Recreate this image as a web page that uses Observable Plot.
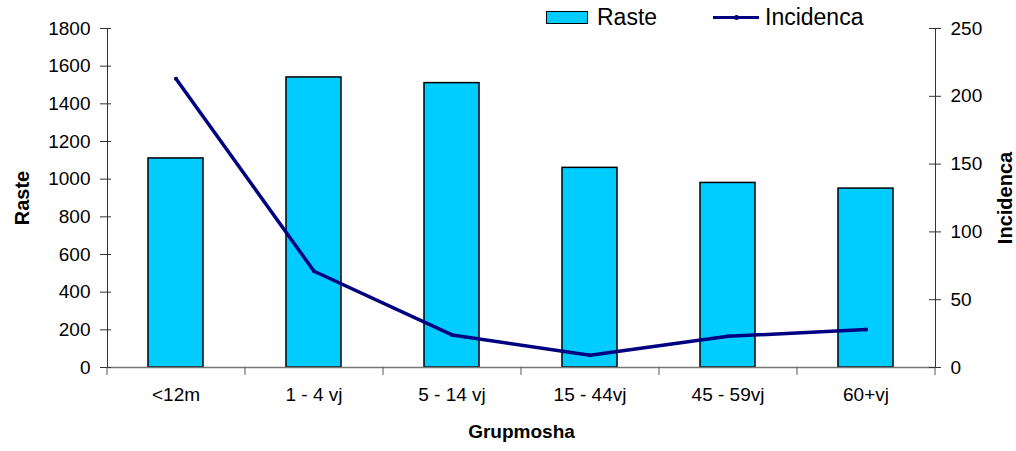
<!DOCTYPE html>
<html><head><meta charset="utf-8">
<script src="https://cdn.jsdelivr.net/npm/d3@7"></script>
<script src="https://cdn.jsdelivr.net/npm/@observablehq/plot@0.6"></script>
<style>
body{margin:0;background:#fff;font-family:"Liberation Sans",Arial,sans-serif}
#wrap{position:relative;width:1016px;height:451px}
.leg{position:absolute;top:4px;font-size:23px;color:#000;display:flex;align-items:center;white-space:nowrap}
.sw{display:inline-block;width:40px;height:11px;background:#00CCFF;border:1.5px solid #000;margin-right:9px}
.ln{display:inline-block;width:46px;height:3px;background:#000080;margin-right:6px;position:relative}
.ln::after{content:"";position:absolute;left:21px;top:-1.5px;width:5px;height:5px;border-radius:50%;background:#000080}
</style></head><body>
<div id="wrap">
  <div class="leg" style="left:546px"><span class="sw"></span>Raste</div>
  <div class="leg" style="left:713px"><span class="ln"></span>Incidenca</div>
</div>
<script>
const categories = ["<12m", "1 - 4 vj", "5 - 14 vj", "15 - 44vj", "45 - 59vj", "60+vj"];
const raste = [1110, 1540, 1510, 1060, 980, 950];
const incidenca = [213, 71, 24, 9, 23, 28];
const leftTicks = [0, 200, 400, 600, 800, 1000, 1200, 1400, 1600, 1800];
const rightTicks = [0, 50, 100, 150, 200, 250];
const leftMax = 1800, rightMax = 250;
const k = leftMax / rightMax;
const data = categories.map((c, i) => ({c, r: raste[i], inc: incidenca[i] * k}));

const chart = Plot.plot({
  width: 1016, height: 451,
  marginLeft: 107, marginRight: 81, marginTop: 28, marginBottom: 84,
  style: {fontFamily: "Liberation Sans, Arial, sans-serif", color: "#000", background: "transparent"},
  x: {domain: categories, paddingInner: 0.6, paddingOuter: 0.3, axis: null},
  y: {domain: [0, leftMax], axis: null},
  marks: [
    Plot.barY(data, {x: "c", y: "r", fill: "#00CCFF", stroke: "#000", strokeWidth: 1.5}),
    Plot.frame({anchor: "left", stroke: "#333"}),
    Plot.frame({anchor: "right", stroke: "#333"}),
    Plot.ruleY([0], {stroke: "#777", strokeWidth: 1.5}),
    Plot.lineY(data, {x: "c", y: "inc", stroke: "#000080", strokeWidth: 3.5}),
    Plot.dot(data, {x: "c", y: "inc", r: 2, fill: "#000080"}),
    Plot.axisY({anchor: "left", ticks: leftTicks, tickFormat: d => String(d), tickSize: 7, tickPadding: 10, fontSize: 19, label: null, stroke: "#333"}),
    Plot.axisY({anchor: "left", ticks: leftTicks, tickSize: -4, text: null, label: null, stroke: "#333"}),
    Plot.axisY({anchor: "right", ticks: rightTicks.map(d => d * k), tickFormat: d => String(Math.round(d / k)), tickSize: 5, tickPadding: 10, fontSize: 19, label: null, stroke: "#333"}),
    Plot.axisY({anchor: "right", ticks: rightTicks.map(d => d * k), tickSize: -7, text: null, label: null, stroke: "#333"}),
    Plot.axisX({ticks: categories, tickSize: 8, text: null, dx: -69, label: null, stroke: "#555"}),
    Plot.axisX({ticks: [categories[categories.length - 1]], tickSize: 8, text: null, dx: 69, label: null, stroke: "#555"}),
    Plot.axisX({tickSize: 0, tickPadding: 20, fontSize: 19, label: null}),
    Plot.text(["Raste"], {frameAnchor: "left", dx: -85, rotate: -90, textAnchor: "middle", fontWeight: "bold", fontSize: 20}),
    Plot.text(["Incidenca"], {frameAnchor: "right", dx: 70, rotate: -90, textAnchor: "middle", fontWeight: "bold", fontSize: 20}),
    Plot.text(["Grupmosha"], {frameAnchor: "bottom", dy: 70, fontWeight: "bold", fontSize: 19, letterSpacing: "1px"})
  ]
});
chart.style.position = "absolute";
chart.style.left = "0";
chart.style.top = "0";
document.getElementById("wrap").prepend(chart);
</script>
</body></html>
